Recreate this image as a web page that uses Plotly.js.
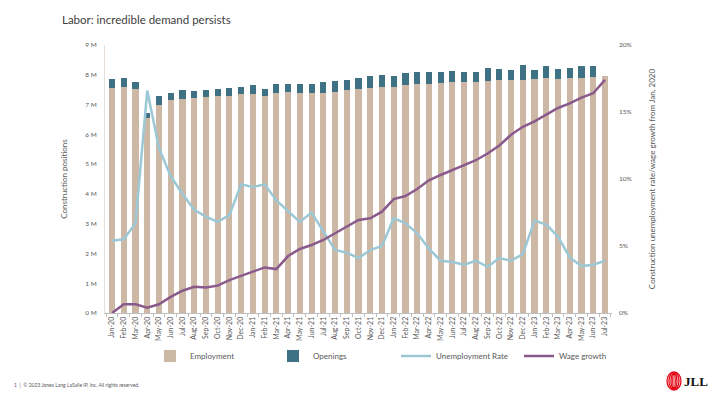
<!DOCTYPE html>
<html>
<head>
<meta charset="utf-8">
<script src="https://cdn.plot.ly/plotly-3.0.1.min.js"></script>
<style>html,body{margin:0;padding:0;background:#fff;}#chart{width:720px;height:405px;}</style>
</head>
<body>
<div id="chart"></div>
<script>
const months = ["Jan-20","Feb-20","Mar-20","Apr-20","May-20","Jun-20","Jul-20","Aug-20","Sep-20","Oct-20","Nov-20","Dec-20",
"Jan-21","Feb-21","Mar-21","Apr-21","May-21","Jun-21","Jul-21","Aug-21","Sep-21","Oct-21","Nov-21","Dec-21",
"Jan-22","Feb-22","Mar-22","Apr-22","May-22","Jun-22","Jul-22","Aug-22","Sep-22","Oct-22","Nov-22","Dec-22",
"Jan-23","Feb-23","Mar-23","Apr-23","May-23","Jun-23","Jul-23"];

// millions
const employment = [7.57,7.60,7.52,6.54,6.98,7.16,7.19,7.21,7.25,7.29,7.30,7.35,
7.35,7.30,7.40,7.42,7.40,7.40,7.40,7.43,7.49,7.51,7.57,7.60,
7.58,7.66,7.69,7.69,7.72,7.75,7.76,7.76,7.79,7.81,7.82,7.82,
7.86,7.89,7.86,7.89,7.89,7.92,7.96];
const openings = [0.29,0.29,0.24,0.19,0.31,0.24,0.30,0.24,0.24,0.23,0.26,0.24,
0.31,0.22,0.29,0.27,0.29,0.29,0.36,0.36,0.33,0.38,0.39,0.39,
0.38,0.40,0.40,0.40,0.37,0.38,0.33,0.33,0.44,0.38,0.34,0.51,
0.30,0.40,0.33,0.34,0.40,0.37,null];
// percent
const unemploymentRate = [5.4,5.5,6.7,16.6,12.3,10.2,8.9,7.7,7.2,6.8,7.3,9.6,
9.4,9.6,8.4,7.6,6.8,7.5,6.1,4.7,4.5,4.1,4.7,5.0,
7.07,6.7,5.95,4.8,3.9,3.8,3.6,3.9,3.45,4.1,3.9,4.4,
6.9,6.6,5.7,4.15,3.5,3.6,3.9];
const wageGrowth = [0.0,0.65,0.65,0.4,0.65,1.2,1.66,1.96,1.9,2.04,2.46,2.76,
3.08,3.4,3.28,4.25,4.78,5.07,5.45,5.95,6.44,6.94,7.07,7.56,
8.5,8.73,9.25,9.9,10.3,10.7,11.04,11.4,11.9,12.5,13.3,13.9,
14.3,14.8,15.3,15.65,16.07,16.4,17.4];

const leftTicks = [0,1,2,3,4,5,6,7,8,9];
const rightTicks = [0,5,10,15,20];

const FONT = "Lato, 'Open Sans', sans-serif";
const GRAY = "#595959";

const traces = [
  {type:"bar", name:"Employment", x:months, y:employment, marker:{color:"#CDB8A6"}, yaxis:"y"},
  {type:"bar", name:"Openings", x:months, y:openings, marker:{color:"#3E7183"}, yaxis:"y"},
  {type:"scatter", mode:"lines", name:"Unemployment Rate", x:months, y:unemploymentRate, yaxis:"y2",
   line:{color:"#9CC8D6", width:2.5}},
  {type:"scatter", mode:"lines", name:"Wage growth", x:months, y:wageGrowth, yaxis:"y2",
   line:{color:"#8B5A8C", width:2.5}}
];

// plot area: x 105..612, y 45..313
const L=105, R=612, T=45, B=313;
const px = v => (v-L)/(R-L);
const py = v => (B-v)/(B-T);

const jllShapes = [];
[[7,9],[5,8.3],[3,7.5],[1.2,7]].forEach(([rx,ry])=>{
  jllShapes.push({type:"circle", xref:"paper", yref:"paper",
    x0:px(674-rx), x1:px(674+rx), y0:py(381+ry), y1:py(381-ry),
    line:{color:"#E30613", width:1.3}, fillcolor:"rgba(0,0,0,0)"});
});

const layout = {
  width:720, height:405,
  margin:{l:L, r:720-R, t:T, b:405-B, pad:0},
  paper_bgcolor:"#fff", plot_bgcolor:"#fff",
  font:{family:FONT, color:GRAY, size:7},
  barmode:"stack", bargap:0.48,
  title:{text:"Labor: incredible demand persists", x:62/720, xanchor:"left", xref:"container",
         y:1-20/405, yanchor:"middle", yref:"container",
         font:{family:FONT, size:11.5, color:"#404040"}},
  xaxis:{type:"category", tickangle:-90, tickfont:{size:7, color:GRAY}, showgrid:false,
         showline:true, linecolor:"#BFBFBF", linewidth:1, ticks:"outside", ticklen:3, tickcolor:"#BFBFBF",
         tickson:"boundaries", range:[-0.6, months.length-0.4]},
  yaxis:{range:[0,9], tickvals:leftTicks, ticktext:leftTicks.map(v=>v+" M"), showgrid:false, zeroline:false,
         showline:true, linecolor:"#E8E0D8", linewidth:1, tickfont:{size:6.5, color:GRAY},
         ticks:"", ticklabelstandoff:6,
         title:{text:"Construction positions", font:{size:8, color:GRAY}, standoff:16}},
  yaxis2:{range:[0,20], overlaying:"y", side:"right", tickvals:rightTicks, ticktext:rightTicks.map(v=>v+"%"),
          showgrid:false, zeroline:false, showline:false, tickfont:{size:6.5, color:GRAY},
          ticklabelstandoff:6,
          title:{text:"Construction unemployment rate/wage growth from Jan. 2020", font:{size:8, color:GRAY}, standoff:18}},
  showlegend:true,
  legend:{orientation:"h", x:px(150), xanchor:"left", y:py(356), yanchor:"middle",
          entrywidth:78, entrywidthmode:"pixels", font:{size:8, color:GRAY}, itemwidth:30,
          traceorder:"normal", bgcolor:"rgba(0,0,0,0)"},
  shapes: jllShapes,
  annotations:[
    {text:"1  |  © 2023 Jones Lang LaSalle IP, Inc. All rights reserved.", xref:"paper", yref:"paper",
     x:px(12), y:py(385), xanchor:"left", yanchor:"middle", showarrow:false, font:{size:5, color:GRAY}},
    {text:"<b>JLL</b>", xref:"paper", yref:"paper", x:px(682), y:py(381), xanchor:"left", yanchor:"middle",
     showarrow:false, font:{family:"'Liberation Serif', 'DejaVu Serif', serif", size:13, color:"#111"}}
  ]
};

Plotly.newPlot("chart", traces, layout, {displayModeBar:false, staticPlot:true});
</script>
</body>
</html>
